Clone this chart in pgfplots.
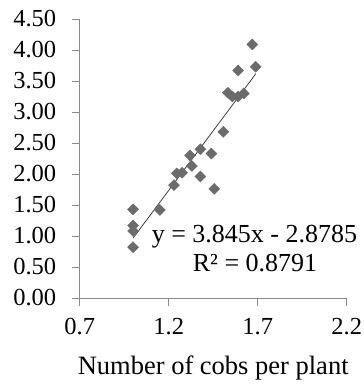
\documentclass[border=0pt]{standalone}
\usepackage{fontspec}
\setmainfont{Liberation Serif}
\usepackage{pgfplots}
\pgfplotsset{compat=1.18}
\definecolor{mk}{HTML}{6B6B6B}
\definecolor{ax}{HTML}{8A8A8A}
\begin{document}
\begin{tikzpicture}
\begin{axis}[
  scale only axis, width=267pt, height=279pt,
  xmin=0.7, xmax=2.2, ymin=0, ymax=4.5,
  axis lines=left, axis line style={-, color=ax, line width=0.8pt},
  xtick={0.7,1.2,1.7,2.2}, ytick={0,0.5,...,4.5},
  tick align=outside, major tick length=8pt,
  tick style={color=ax, line width=0.8pt},
  /pgf/number format/assume math mode=true,
  yticklabel style={/pgf/number format/.cd, fixed, fixed zerofill, precision=2, /tikz/xshift=-12pt},
  xticklabel style={/pgf/number format/.cd, fixed, fixed zerofill, precision=1, /tikz/yshift=-9pt},
  ticklabel style={font=\fontsize{24.5}{28}\selectfont, color=black},
  xlabel={Number of cobs per plant},
  xlabel style={font=\fontsize{26.5}{30}\selectfont, yshift=-14pt},
  clip=false,
]
\addplot[only marks, mark=square*, mark size=3.9pt, mark options={rotate=45, fill=mk, draw=mk}] coordinates {
(1.00,0.82) (1.00,1.08) (1.00,1.17) (1.00,1.43)
(1.15,1.42) (1.23,1.82) (1.245,2.01) (1.275,2.02)
(1.33,2.13) (1.32,2.30) (1.378,2.40) (1.378,1.96)
(1.44,2.33) (1.456,1.76) (1.507,2.68)
(1.533,3.31) (1.558,3.25) (1.59,3.25) (1.622,3.30)
(1.59,3.67) (1.67,4.09) (1.688,3.73)
};
\addplot[color=black!75, line width=0.8pt] coordinates {(1.0,0.9665) (1.69,3.6196)};
\node[anchor=west, font=\fontsize{26}{30}\selectfont, inner sep=0pt] at (axis cs:1.104,0.99) {y = 3.845x - 2.8785};
\node[font=\fontsize{26}{30}\selectfont, inner sep=0pt] at (axis cs:1.685,0.56) {R² = 0.8791};
\end{axis}
\pgfresetboundingbox
\path (-79.7pt,-86pt) rectangle (284.3pt,298pt);
\end{tikzpicture}
\end{document}
